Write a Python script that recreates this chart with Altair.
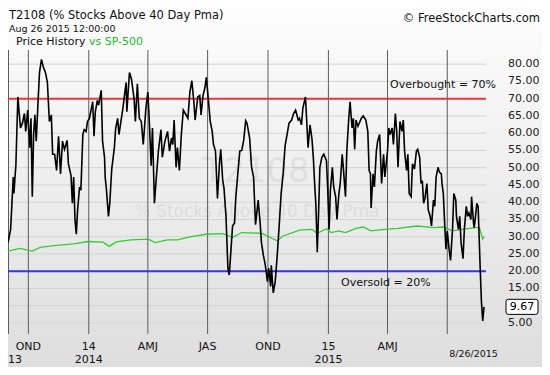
import altair as alt
import pandas as pd

# ---------------- data ----------------
t2108_dates = [
    "2013-08-31", "2013-09-04", "2013-09-08", "2013-09-09", "2013-09-11", "2013-09-12", "2013-09-15",
    "2013-09-19", "2013-09-22", "2013-09-25", "2013-09-27", "2013-09-30", "2013-10-03", "2013-10-05",
    "2013-10-07", "2013-10-09", "2013-10-11", "2013-10-13", "2013-10-16", "2013-10-18", "2013-10-21",
    "2013-10-24", "2013-10-27", "2013-10-30", "2013-11-02", "2013-11-05", "2013-11-07", "2013-11-10",
    "2013-11-13", "2013-11-16", "2013-11-19", "2013-11-22", "2013-11-25", "2013-11-29", "2013-12-01",
    "2013-12-05", "2013-12-07", "2013-12-09", "2013-12-11", "2013-12-13", "2013-12-15", "2013-12-18",
    "2013-12-20", "2013-12-23", "2013-12-25", "2013-12-28", "2013-12-30", "2014-01-02", "2014-01-05",
    "2014-01-07", "2014-01-09", "2014-01-11", "2014-01-14", "2014-01-16", "2014-01-20", "2014-01-22",
    "2014-01-25", "2014-01-26", "2014-01-28", "2014-01-31", "2014-02-02", "2014-02-05", "2014-02-09",
    "2014-02-11", "2014-02-14", "2014-02-16", "2014-02-19", "2014-02-22", "2014-02-25", "2014-02-27",
    "2014-02-28", "2014-03-04", "2014-03-07", "2014-03-11", "2014-03-13", "2014-03-16", "2014-03-19",
    "2014-03-22", "2014-03-25", "2014-03-29", "2014-04-01", "2014-04-03", "2014-04-06", "2014-04-08",
    "2014-04-11", "2014-04-14", "2014-04-17", "2014-04-21", "2014-04-23", "2014-04-27", "2014-05-01",
    "2014-05-04", "2014-05-07", "2014-05-09", "2014-05-11", "2014-05-14", "2014-05-16", "2014-05-19",
    "2014-05-22", "2014-05-25", "2014-05-28", "2014-06-01", "2014-06-04", "2014-06-07", "2014-06-10",
    "2014-06-12", "2014-06-16", "2014-06-19", "2014-06-21", "2014-06-24", "2014-06-27", "2014-06-29",
    "2014-07-02", "2014-07-05", "2014-07-08", "2014-07-10", "2014-07-13", "2014-07-16", "2014-07-19",
    "2014-07-21", "2014-07-24", "2014-07-26", "2014-07-29", "2014-07-31", "2014-08-01", "2014-08-03",
    "2014-08-05", "2014-08-08", "2014-08-11", "2014-08-13", "2014-08-16", "2014-08-19", "2014-08-22",
    "2014-08-25", "2014-08-28", "2014-08-30", "2014-09-03", "2014-09-06", "2014-09-09", "2014-09-12",
    "2014-09-16", "2014-09-19", "2014-09-21", "2014-09-24", "2014-09-26", "2014-09-28", "2014-09-30",
    "2014-10-02", "2014-10-05", "2014-10-06", "2014-10-09", "2014-10-12", "2014-10-15", "2014-10-18",
    "2014-10-21", "2014-10-24", "2014-10-27", "2014-10-30", "2014-11-02", "2014-11-06", "2014-11-09",
    "2014-11-12", "2014-11-16", "2014-11-18", "2014-11-21", "2014-11-23", "2014-11-27", "2014-11-29",
    "2014-12-01", "2014-12-04", "2014-12-07", "2014-12-09", "2014-12-11", "2014-12-13", "2014-12-15",
    "2014-12-17", "2014-12-19", "2014-12-22", "2014-12-25", "2014-12-29", "2014-12-31", "2015-01-02",
    "2015-01-04", "2015-01-07", "2015-01-09", "2015-01-12", "2015-01-14", "2015-01-17", "2015-01-19",
    "2015-01-22", "2015-01-24", "2015-01-27", "2015-01-29", "2015-02-01", "2015-02-03", "2015-02-06",
    "2015-02-08", "2015-02-10", "2015-02-12", "2015-02-15", "2015-02-20", "2015-02-23", "2015-02-27",
    "2015-03-02", "2015-03-04", "2015-03-06", "2015-03-07", "2015-03-10", "2015-03-12", "2015-03-15",
    "2015-03-17", "2015-03-20", "2015-03-23", "2015-03-26", "2015-03-28", "2015-04-01", "2015-04-03",
    "2015-04-05", "2015-04-08", "2015-04-10", "2015-04-13", "2015-04-15", "2015-04-17", "2015-04-20",
    "2015-04-23", "2015-04-25", "2015-04-27", "2015-04-30", "2015-05-02", "2015-05-04", "2015-05-07",
    "2015-05-09", "2015-05-12", "2015-05-15", "2015-05-17", "2015-05-20", "2015-05-22", "2015-05-24",
    "2015-05-26", "2015-05-28", "2015-05-31", "2015-06-02", "2015-06-05", "2015-06-07", "2015-06-10",
    "2015-06-12", "2015-06-14", "2015-06-17", "2015-06-19", "2015-06-22", "2015-06-23", "2015-06-25",
    "2015-06-27", "2015-06-29", "2015-07-01", "2015-07-04", "2015-07-06", "2015-07-09", "2015-07-11",
    "2015-07-14", "2015-07-15", "2015-07-18", "2015-07-20", "2015-07-22", "2015-07-25", "2015-07-27",
    "2015-07-30", "2015-08-01", "2015-08-03", "2015-08-06", "2015-08-07", "2015-08-10", "2015-08-11",
    "2015-08-13", "2015-08-15", "2015-08-17", "2015-08-18", "2015-08-20", "2015-08-22", "2015-08-24",
    "2015-08-26",
]
t2108_values = [
    28.3, 32.1, 47.3, 42.5, 48.2, 50.6, 70.5,
    61.5, 62.9, 65.7, 60.5, 66.7, 55.8, 64.3,
    41.6, 59.6, 65.3, 57.7, 70.0, 77.6, 81.4,
    79.0, 77.6, 74.7, 63.4, 65.3, 53.9, 53.9,
    49.2, 59.1, 48.2, 57.7, 55.3, 57.9, 51.1,
    47.7, 39.7, 47.3, 35.0, 30.7, 37.8, 44.4,
    43.5, 59.6, 61.0, 60.5, 63.4, 64.3, 67.2,
    69.1, 59.1, 66.2, 69.5, 68.1, 72.4, 57.7,
    53.0, 47.3, 43.5, 35.9, 39.7, 49.6, 55.8,
    61.5, 64.3, 59.6, 63.4, 67.2, 71.9, 74.7,
    66.2, 77.6, 75.7, 70.0, 63.4, 74.3, 64.3,
    63.4, 56.7, 67.2, 71.9, 64.3, 50.6, 61.5,
    39.7, 47.3, 54.8, 61.0, 53.0, 57.7, 60.5,
    54.8, 58.6, 56.7, 63.8, 50.1, 55.8, 49.2,
    59.6, 66.7, 65.7, 64.3, 71.9, 75.2, 69.1,
    63.8, 70.5, 70.9, 65.3, 70.9, 73.3, 76.2,
    70.0, 63.4, 60.5, 56.7, 54.8, 41.1, 51.1,
    55.3, 46.3, 44.0, 35.9, 25.5, 20.8, 18.9,
    24.5, 33.1, 34.0, 41.6, 48.2, 54.8, 55.0,
    58.0, 63.6, 62.9, 58.6, 50.1, 47.3, 33.5,
    40.6, 34.0, 28.3, 24.5, 22.7, 20.3, 17.0,
    20.8, 15.6, 21.7, 13.7, 17.0, 24.5, 33.1,
    42.5, 48.2, 56.3, 59.6, 62.9, 63.8, 65.7,
    66.7, 63.8, 64.3, 62.4, 67.2, 70.5, 63.4,
    55.8, 62.4, 58.2, 53.0, 45.4, 38.8, 25.5,
    36.9, 50.1, 53.0, 53.9, 52.0, 43.5, 32.1,
    43.5, 50.1, 44.4, 41.6, 35.0, 42.5, 45.4,
    53.9, 49.2, 41.6, 54.8, 64.3, 69.1, 61.5,
    64.3, 55.3, 63.8, 62.0, 64.3, 65.0, 63.8,
    60.5, 49.2, 48.2, 38.3, 48.2, 44.4, 54.8,
    57.7, 59.6, 45.4, 53.9, 47.3, 54.8, 61.5,
    59.6, 61.5, 56.7, 65.7, 60.5, 50.1, 63.4,
    60.5, 63.8, 54.8, 49.2, 53.9, 42.5, 41.6,
    51.1, 49.6, 54.8, 55.3, 53.0, 45.4, 46.3,
    39.7, 41.1, 45.4, 37.8, 35.9, 33.1, 40.6,
    38.8, 47.3, 50.1, 48.7, 48.2, 45.4, 42.5,
    34.0, 26.4, 31.6, 26.0, 23.1, 32.1, 42.5,
    40.6, 35.9, 32.1, 35.9, 28.3, 23.6, 32.1,
    38.8, 35.9, 36.9, 35.0, 41.6, 34.0, 32.6,
    35.9, 39.7, 38.8, 33.1, 21.7, 11.3, 5.6,
    9.67,
]

spx_dates = [
    "2013-08-31", "2013-09-18", "2013-10-07", "2013-10-19", "2013-11-09", "2013-12-09", "2013-12-31",
    "2014-01-23", "2014-02-01", "2014-02-12", "2014-03-06", "2014-04-02", "2014-04-12", "2014-05-01",
    "2014-05-16", "2014-06-06", "2014-06-29", "2014-07-24", "2014-08-08", "2014-08-22", "2014-09-21",
    "2014-10-15", "2014-10-24", "2014-11-18", "2014-12-07", "2014-12-15", "2014-12-29", "2015-01-05",
    "2015-01-17", "2015-01-27", "2015-02-12", "2015-02-23", "2015-03-07", "2015-03-28", "2015-04-17",
    "2015-05-16", "2015-06-10", "2015-06-25", "2015-07-09", "2015-07-24", "2015-08-13", "2015-08-19",
    "2015-08-24", "2015-08-26",
]
spx_values = [
    25.8, 26.6, 25.8, 26.9, 27.4, 27.9, 28.6,
    28.4, 27.2, 28.5, 29.1, 29.3, 28.3, 29.1,
    29.1, 30.0, 30.7, 30.9, 29.8, 31.2, 31.0,
    28.8, 30.2, 31.9, 32.1, 31.0, 32.3, 31.2,
    31.7, 31.2, 32.4, 32.8, 31.7, 32.1, 32.4,
    33.1, 32.6, 32.8, 31.7, 32.1, 32.6, 32.6,
    29.3, 30.0,
]

grid_levels = [5, 10, 15, 20, 25, 30, 35, 40, 45, 50, 55, 60, 65, 70, 75, 80]
# 10.00 sits under the last-value box in the reference, so it is not labelled
label_levels = [5, 15, 20, 25, 30, 35, 40, 45, 50, 55, 60, 65, 70, 75, 80]
quarter_starts = ["2013-10-01", "2014-01-01", "2014-04-01", "2014-07-01",
                  "2014-10-01", "2015-01-01", "2015-04-01", "2015-07-01"]
quarter_label_dates = ["2013-10-01", "2014-01-01", "2014-04-01", "2014-07-01",
                       "2014-10-01", "2015-01-01", "2015-04-01"]
quarter_labels = ["OND", "14", "AMJ", "JAS", "OND", "15", "AMJ"]
year_dates = ["2014-01-01", "2015-01-01"]
year_labels = ["2014", "2015"]
first_date = "2013-08-31"
first_year_label = "13"
last_date_label_pos = "2015-08-10"
last_date_label = "8/26/2015"
overbought_level = 70
oversold_level = 20
last_value = 9.67

# ---------------- layout ----------------
FONT = "DejaVu Sans"
W, H = 478, 284
PAD_L, PAD_T, PAD_R, PAD_B = 0, 42, 56, 33
TOTAL_W, TOTAL_H = W + PAD_L + PAD_R, H + PAD_T + PAD_B

xscale = alt.Scale(domain=[alt.DateTime(year=2013, month=8, date=31),
                           alt.DateTime(year=2015, month=8, date=29)], nice=False)
yscale = alt.Scale(domain=[1.8, 84.1], nice=False, zero=False)

one = pd.DataFrame({"k": [1]})
t2108 = pd.DataFrame({"date": t2108_dates, "value": t2108_values})
spx = pd.DataFrame({"date": spx_dates, "value": spx_values})
levels = pd.DataFrame({"level": grid_levels})

bg = alt.Chart(one).mark_rect(
    fill=alt.Gradient(gradient="linear",
                      stops=[alt.GradientStop(color="#fdfdfd", offset=0),
                             alt.GradientStop(color="#dedede", offset=1)],
                      x1=0, x2=0, y1=0, y2=1)
).encode(x=alt.value(0), x2=alt.value(TOTAL_W), y=alt.value(-PAD_T), y2=alt.value(H + PAD_B))

hgrid = alt.Chart(levels).mark_rule(color="#d3d3d3", strokeWidth=1).encode(
    y=alt.Y("level:Q", scale=yscale, axis=None))

# right-hand value labels
ylabels = alt.Chart(pd.DataFrame({"level": label_levels})).mark_text(
    font=FONT, fontSize=11, color="#222", align="left", baseline="middle").encode(
    x=alt.value(W + 22), y=alt.Y("level:Q", scale=yscale, axis=None),
    text=alt.Text("level:Q", format=".2f"))

vgrid = alt.Chart(pd.DataFrame({"d": quarter_starts})).mark_rule(
    color="#5c5c5c", strokeWidth=1
).encode(x=alt.X("d:T", scale=xscale, axis=None))

left_edge = alt.Chart(one).mark_rule(color="#5c5c5c", strokeWidth=1).encode(
    x=alt.value(0.5), y=alt.value(0), y2=alt.value(H))

wm1 = alt.Chart(one).mark_text(text="T2108", font=FONT, fontSize=34, color="#000000",
                               opacity=0.06, align="center", baseline="middle").encode(
    x=alt.value(248), y=alt.value(122))
wm2 = alt.Chart(one).mark_text(text="% Stocks Above 40 Day Pma", font=FONT, fontSize=17,
                               color="#000000", opacity=0.06, align="center",
                               baseline="middle").encode(
    x=alt.value(249), y=alt.value(162))

ob_rule = alt.Chart(pd.DataFrame({"level": [overbought_level]})).mark_rule(
    color="#f03535", strokeWidth=2).encode(y=alt.Y("level:Q", scale=yscale, axis=None))
os_rule = alt.Chart(pd.DataFrame({"level": [oversold_level]})).mark_rule(
    color="#3535f0", strokeWidth=2).encode(y=alt.Y("level:Q", scale=yscale, axis=None))

ob_text = alt.Chart(pd.DataFrame({"level": [overbought_level]})).mark_text(
    text="Overbought = 70%", font=FONT, fontSize=11, color="#111", align="left",
    baseline="middle", dy=-14).encode(x=alt.value(382), y=alt.Y("level:Q", scale=yscale, axis=None))
os_text = alt.Chart(pd.DataFrame({"level": [oversold_level]})).mark_text(
    text="Oversold = 20%", font=FONT, fontSize=11, color="#111", align="left",
    baseline="middle", dy=12).encode(x=alt.value(333), y=alt.Y("level:Q", scale=yscale, axis=None))

spx_line = alt.Chart(spx).mark_line(color="#33cc33", strokeWidth=1.3).encode(
    x=alt.X("date:T", scale=xscale, axis=None),
    y=alt.Y("value:Q", scale=yscale, axis=None))

t_line = alt.Chart(t2108).mark_line(color="#000000", strokeWidth=1.6).encode(
    x=alt.X("date:T", scale=xscale, axis=None),
    y=alt.Y("value:Q", scale=yscale, axis=None))

box_path = ("M-0.86,-0.47 L0.86,-0.47 Q1,-0.47 1,-0.33 L1,0.33 Q1,0.47 0.86,0.47 "
            "L-0.86,0.47 Q-1,0.47 -1,0.33 L-1,-0.33 Q-1,-0.47 -0.86,-0.47 Z")
last_df = pd.DataFrame({"value": [last_value], "label": [f"{last_value:.2f}"]})
box = alt.Chart(last_df).mark_point(shape=box_path, size=1024, filled=True, fill="white",
                                    stroke="#000", strokeWidth=1, opacity=1).encode(
    x=alt.value(W + 36), y=alt.Y("value:Q", scale=yscale, axis=None))
box_text = alt.Chart(last_df).mark_text(font=FONT, fontSize=11, color="#000",
                                        align="center", baseline="middle").encode(
    x=alt.value(W + 36), y=alt.Y("value:Q", scale=yscale, axis=None), text="label:N")

# header texts
title = alt.Chart(one).mark_text(text="T2108 (% Stocks Above 40 Day Pma)", font=FONT,
                                 fontSize=11.5, color="#111", align="left",
                                 baseline="middle").encode(x=alt.value(1), y=alt.value(-34))
stamp = alt.Chart(one).mark_text(text="Aug 26 2015 12:00:00", font=FONT, fontSize=9.5,
                                 color="#111", align="left", baseline="middle").encode(
    x=alt.value(1), y=alt.value(-21))
ph = alt.Chart(one).mark_text(text="Price History", font=FONT, fontSize=11, color="#111",
                              align="left", baseline="middle").encode(
    x=alt.value(8), y=alt.value(-8))
vs = alt.Chart(one).mark_text(text="vs SP-500", font=FONT, fontSize=11, color="#22bb22",
                              align="left", baseline="middle").encode(
    x=alt.value(81), y=alt.value(-8))
copy = alt.Chart(one).mark_text(text="© FreeStockCharts.com", font=FONT, fontSize=11.5,
                                color="#111", align="right", baseline="middle").encode(
    x=alt.value(TOTAL_W - 2), y=alt.value(-31))

# x-axis labels
q_lab = alt.Chart(pd.DataFrame({"d": quarter_label_dates, "t": quarter_labels})).mark_text(
    font=FONT, fontSize=11, color="#111", align="center", baseline="middle").encode(
    x=alt.X("d:T", scale=xscale, axis=None), y=alt.value(H + 13), text="t:N")
y_lab = alt.Chart(pd.DataFrame({"d": year_dates, "t": year_labels})).mark_text(
    font=FONT, fontSize=11, color="#111", align="center", baseline="middle").encode(
    x=alt.X("d:T", scale=xscale, axis=None), y=alt.value(H + 26), text="t:N")
y0_lab = alt.Chart(pd.DataFrame({"d": [first_date], "t": [first_year_label]})).mark_text(
    font=FONT, fontSize=11, color="#111", align="left", baseline="middle").encode(
    x=alt.X("d:T", scale=xscale, axis=None), y=alt.value(H + 26), text="t:N")
end_lab = alt.Chart(pd.DataFrame({"d": [last_date_label_pos], "t": [last_date_label]})).mark_text(
    font=FONT, fontSize=9.5, color="#111", align="center", baseline="middle").encode(
    x=alt.X("d:T", scale=xscale, axis=None), y=alt.value(H + 20), text="t:N")

chart = alt.layer(
    bg, hgrid, vgrid, left_edge, wm1, wm2, ob_rule, os_rule, spx_line, t_line,
    ob_text, os_text, ylabels, box, box_text, title, stamp, ph, vs, copy,
    q_lab, y_lab, y0_lab, end_lab,
).properties(
    width=W, height=H,
    padding={"left": PAD_L, "top": PAD_T, "right": PAD_R, "bottom": PAD_B},
    autosize=alt.AutoSizeParams(type="none"),
).configure_view(stroke=None).configure(background="white")

chart.save("out.html", embed_options={"renderer": "svg", "actions": False})
